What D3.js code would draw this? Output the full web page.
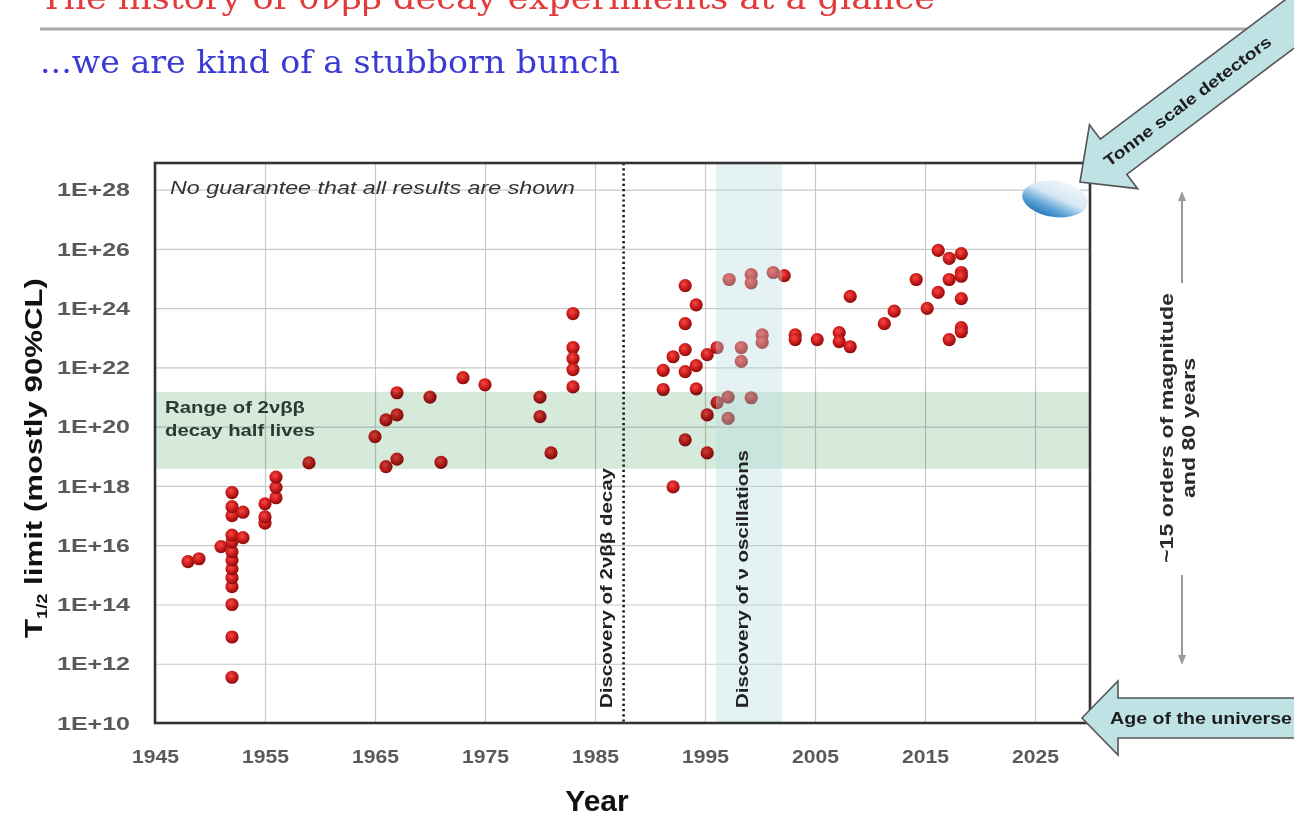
<!DOCTYPE html>
<html><head><meta charset="utf-8">
<script src="https://cdn.jsdelivr.net/npm/d3@7"></script>
<style>
body{margin:0;background:#fff}
svg{display:block}
</style>
</head><body>
<svg id="chart" width="1294" height="818"></svg>
<script>
// Half-life limits of 0νββ searches by publication year
const years = [
  1948, 1949, 1951,
  1952, 1952, 1952, 1952, 1952, 1952, 1952, 1952, 1952, 1952, 1952, 1952, 1952,
  1953, 1953,
  1955, 1955, 1955,
  1956, 1956, 1956,
  1959, 1965, 1966, 1966, 1967, 1967, 1967, 1970, 1971, 1973, 1975,
  1980, 1980, 1981,
  1983, 1983, 1983, 1983, 1983,
  1991.2, 1991.2, 1992.1, 1992.1,
  1993.2, 1993.2, 1993.2, 1993.2, 1993.2,
  1994.2, 1994.2, 1994.2,
  1995.2, 1995.2, 1995.2,
  1996.1, 1996.1,
  1997.2, 1997.1, 1997.1,
  1998.3, 1998.3,
  1999.2, 1999.2, 1999.2,
  2000.2, 2000.2, 2001.2, 2002.2,
  2003.2, 2003.2, 2005.2,
  2007.2, 2007.2, 2008.2, 2008.2,
  2011.3, 2012.2, 2014.2, 2015.2,
  2016.2, 2016.2,
  2017.2, 2017.2, 2017.2,
  2018.3, 2018.3, 2018.3, 2018.3, 2018.3, 2018.3
];
const halfLifeLimits = [
  2.8e15, 3.5e15, 9e15,
  3.5e11, 8e12, 1e14, 4e14, 8e14, 1.6e15, 3.2e15, 6e15, 1.3e16, 2.2e16, 1e17, 2e17, 6e17,
  1.8e16, 1.3e17,
  5.6e16, 9e16, 2.5e17,
  4e17, 9e17, 2e18,
  6e18, 4.6e19, 1.7e20, 4.5e18, 2.5e20, 1.4e21, 8e18, 1e21, 6.3e18, 4.5e21, 2.6e21,
  1e21, 2.2e20, 1.3e19,
  6.6e23, 4.7e22, 2e22, 8.5e21, 2.2e21,
  8e21, 1.8e21, 2.3e22, 9.3e17,
  5.8e24, 3e23, 4e22, 7.2e21, 3.6e19,
  1.3e24, 1.15e22, 1.9e21,
  2.7e22, 2.5e20, 1.3e19,
  4.7e22, 6.5e20,
  9.3e24, 1e21, 1.9e20,
  4.7e22, 1.6e22,
  1.35e25, 7.2e24, 9.5e20,
  1.25e23, 7e22, 1.6e25, 1.25e25,
  1.25e23, 8.7e22, 8.7e22,
  1.5e23, 7.4e22, 5e22, 2.5e24,
  3e23, 8e23, 9.3e24, 9.8e23,
  8.9e25, 3.4e24,
  4.8e25, 9.3e24, 8.7e22,
  6.9e25, 1.6e25, 1.2e25, 2.1e24, 2.2e23, 1.6e23
];
const yearTicks = [1945, 1955, 1965, 1975, 1985, 1995, 2005, 2015, 2025];
const limitTicks = [1e10, 1e12, 1e14, 1e16, 1e18, 1e20, 1e22, 1e24, 1e26, 1e28];
const twoNuRange = [3.8e18, 1.5e21];        // 2νββ half-life band
const oscillationYears = [1996, 2002];       // ν oscillation discovery period
const twoNuDiscoveryYear = 1987.6;

const svg = d3.select("#chart");
const W = 1294, H = 818;
const plot = {left: 155, right: 1090, top: 163, bottom: 723};
const sans = "'Liberation Sans', Arial, sans-serif";
const serif = "'DejaVu Serif', serif";

svg.append("rect").attr("width", W).attr("height", H).attr("fill", "#fff");

const defs = svg.append("defs");
const dot = defs.append("radialGradient").attr("id", "dotFill")
  .attr("cx", "42%").attr("cy", "38%").attr("r", "60%");
dot.append("stop").attr("offset", "0%").attr("stop-color", "#f24a44");
dot.append("stop").attr("offset", "55%").attr("stop-color", "#d11d1d");
dot.append("stop").attr("offset", "100%").attr("stop-color", "#8e0d0d");

const lens = defs.append("linearGradient").attr("id", "lensFill")
  .attr("x1", "80%").attr("y1", "0%").attr("x2", "25%").attr("y2", "100%");
lens.append("stop").attr("offset", "0%").attr("stop-color", "#f3f8fb");
lens.append("stop").attr("offset", "45%").attr("stop-color", "#d6e8f3");
lens.append("stop").attr("offset", "75%").attr("stop-color", "#5aa2d6");
lens.append("stop").attr("offset", "100%").attr("stop-color", "#1f6fb5");

const arrowHead = defs.append("marker").attr("id", "grayHead")
  .attr("viewBox", "0 0 10 10").attr("refX", 5).attr("refY", 5)
  .attr("markerWidth", 5).attr("markerHeight", 5).attr("orient", "auto-start-reverse");
arrowHead.append("path").attr("d", "M0,1 L10,5 L0,9 Z").attr("fill", "#9a9a9a");

// Heading
svg.append("text").attr("x", 40).attr("y", 9)
  .attr("font-family", serif).attr("font-size", 32).attr("fill", "#e23b3b")
  .attr("textLength", 895).attr("lengthAdjust", "spacingAndGlyphs")
  .text("The history of 0νββ decay experiments at a glance");
svg.append("line").attr("x1", 40).attr("x2", W).attr("y1", 29).attr("y2", 29)
  .attr("stroke", "#a9a9a9").attr("stroke-width", 3);
svg.append("text").attr("x", 40).attr("y", 73)
  .attr("font-family", serif).attr("font-size", 31).attr("fill", "#3b3bd4")
  .attr("textLength", 580).attr("lengthAdjust", "spacingAndGlyphs")
  .text("...we are kind of a stubborn bunch");

// Scales
const x = d3.scaleLinear().domain([1945, 2030]).range([plot.left, plot.right]);
const y = d3.scaleLog().domain([1e10, Math.pow(10, 28.9)]).range([plot.bottom, plot.top]);

// Grid
const grid = svg.append("g");
grid.append("g").attr("transform", `translate(0,${plot.bottom})`)
  .call(d3.axisBottom(x).tickValues(yearTicks).tickSize(-(plot.bottom - plot.top)).tickFormat(""))
  .call(g => g.select(".domain").remove())
  .call(g => g.selectAll("line").attr("stroke", "#c9c9c9").attr("stroke-width", 1.2));
grid.append("g").attr("transform", `translate(${plot.left},0)`)
  .call(d3.axisLeft(y).tickValues(limitTicks).tickSize(-(plot.right - plot.left)).tickFormat(""))
  .call(g => g.select(".domain").remove())
  .call(g => g.selectAll("line").attr("stroke", "#c9c9c9").attr("stroke-width", 1.2));

// Data points
svg.append("g").selectAll("circle")
  .data(years.map((yr, i) => ({yr, v: halfLifeLimits[i]})))
  .join("circle")
  .attr("cx", d => x(d.yr)).attr("cy", d => y(d.v)).attr("r", 6.6)
  .attr("fill", "url(#dotFill)");

// 2νββ half-life band
svg.append("rect")
  .attr("x", plot.left).attr("width", plot.right - plot.left)
  .attr("y", y(twoNuRange[1])).attr("height", y(twoNuRange[0]) - y(twoNuRange[1]))
  .attr("fill", "#d5eadb").style("mix-blend-mode", "multiply");

// ν oscillation discovery band
svg.append("rect")
  .attr("x", x(oscillationYears[0])).attr("width", x(oscillationYears[1]) - x(oscillationYears[0]))
  .attr("y", plot.top).attr("height", plot.bottom - plot.top)
  .attr("fill", "#b8dce3").attr("opacity", 0.38);

// 2νββ discovery marker
svg.append("line")
  .attr("x1", x(twoNuDiscoveryYear)).attr("x2", x(twoNuDiscoveryYear))
  .attr("y1", plot.top).attr("y2", plot.bottom)
  .attr("stroke", "#1a1a1a").attr("stroke-width", 2.6).attr("stroke-dasharray", "2.2,3");

// In-plot annotations
svg.append("text").attr("x", 170).attr("y", 194)
  .attr("font-family", sans).attr("font-style", "italic").attr("font-size", 18).attr("fill", "#333")
  .attr("textLength", 405).attr("lengthAdjust", "spacingAndGlyphs")
  .text("No guarantee that all results are shown");
const rangeLabel = svg.append("text").attr("font-family", sans).attr("font-weight", "bold")
  .attr("font-size", 17).attr("fill", "#2b3a2e");
rangeLabel.append("tspan").attr("x", 165).attr("y", 413).attr("textLength", 140)
  .attr("lengthAdjust", "spacingAndGlyphs").text("Range of 2νββ");
rangeLabel.append("tspan").attr("x", 165).attr("y", 436).attr("textLength", 150)
  .attr("lengthAdjust", "spacingAndGlyphs").text("decay half lives");

svg.append("text")
  .attr("transform", `translate(${x(twoNuDiscoveryYear) - 12},708) rotate(-90)`)
  .attr("font-family", sans).attr("font-weight", "bold").attr("font-size", 17).attr("fill", "#222")
  .attr("textLength", 240).attr("lengthAdjust", "spacingAndGlyphs")
  .text("Discovery of 2νββ decay");
svg.append("text")
  .attr("transform", `translate(${x(1998.8) + 1},708) rotate(-90)`)
  .attr("font-family", sans).attr("font-weight", "bold").attr("font-size", 17).attr("fill", "#222")
  .attr("textLength", 258).attr("lengthAdjust", "spacingAndGlyphs")
  .text("Discovery of ν oscillations");

// Plot frame
svg.append("rect").attr("x", plot.left).attr("y", plot.top)
  .attr("width", plot.right - plot.left).attr("height", plot.bottom - plot.top)
  .attr("fill", "none").attr("stroke", "#333").attr("stroke-width", 2.6);

// Axes labels
svg.append("g").attr("transform", `translate(0,${plot.bottom})`)
  .call(d3.axisBottom(x).tickValues(yearTicks).tickSize(0).tickPadding(27).tickFormat(d3.format("d")))
  .call(g => g.select(".domain").remove())
  .call(g => g.selectAll("text").attr("font-family", sans).attr("font-weight", "bold")
    .attr("font-size", 18).attr("fill", "#5a5a5a")
    .attr("textLength", 47).attr("lengthAdjust", "spacingAndGlyphs"));
svg.append("g").attr("transform", `translate(${plot.left},0)`)
  .call(d3.axisLeft(y).tickValues(limitTicks).tickSize(0).tickPadding(25)
    .tickFormat(d => "1E+" + Math.round(Math.log10(d))))
  .call(g => g.select(".domain").remove())
  .call(g => g.selectAll("text").attr("font-family", sans).attr("font-weight", "bold")
    .attr("font-size", 19).attr("fill", "#5a5a5a")
    .attr("textLength", 73).attr("lengthAdjust", "spacingAndGlyphs"));

svg.append("text").attr("x", 597).attr("y", 811).attr("text-anchor", "middle")
  .attr("font-family", sans).attr("font-weight", "bold").attr("font-size", 30).attr("fill", "#111")
  .text("Year");
const yTitle = svg.append("text")
  .attr("transform", "translate(42,458) rotate(-90)").attr("text-anchor", "middle")
  .attr("font-family", sans).attr("font-weight", "bold").attr("font-size", 24).attr("fill", "#111")
  .attr("textLength", 360).attr("lengthAdjust", "spacingAndGlyphs");
yTitle.append("tspan").text("T");
yTitle.append("tspan").attr("font-size", 14).attr("dy", 5).text("1/2");
yTitle.append("tspan").attr("dy", -5).text(" limit (mostly 90%CL)");

// Tonne-scale detector sensitivity
svg.append("ellipse").attr("cx", 1055).attr("cy", 199).attr("rx", 33).attr("ry", 18)
  .attr("transform", "rotate(8,1055,199)").attr("fill", "url(#lensFill)");

// Callout arrows
function callout(tx, ty, angle, headLen, headHalf, shaftHalf, len, label, textAt, fontSize, textLen) {
  const g = svg.append("g").attr("transform", `translate(${tx},${ty}) rotate(${angle})`);
  g.append("path")
    .attr("d", `M0,0 L${headLen},${-headHalf} L${headLen},${-shaftHalf} L${len},${-shaftHalf} L${len},${shaftHalf} L${headLen},${shaftHalf} L${headLen},${headHalf} Z`)
    .attr("fill", "#bfe2e5").attr("stroke", "#555").attr("stroke-width", 1.6);
  g.append("text").attr("x", textAt).attr("y", 0).attr("dy", "0.36em")
    .attr("font-family", sans).attr("font-weight", "bold").attr("font-size", fontSize).attr("fill", "#1d1d1d")
    .attr("textLength", textLen).attr("lengthAdjust", "spacingAndGlyphs")
    .text(label);
}
callout(1080, 182, -37, 42, 40, 22, 340, "Tonne scale detectors", 32, 16, 205);
callout(1082, 718, 0, 36, 37, 20, 260, "Age of the universe", 28, 16, 182);

// Span annotation on the right
svg.append("line").attr("x1", 1182).attr("x2", 1182).attr("y1", 283).attr("y2", 196)
  .attr("stroke", "#9a9a9a").attr("stroke-width", 2).attr("marker-end", "url(#grayHead)");
svg.append("line").attr("x1", 1182).attr("x2", 1182).attr("y1", 575).attr("y2", 660)
  .attr("stroke", "#9a9a9a").attr("stroke-width", 2).attr("marker-end", "url(#grayHead)");
const span = svg.append("text").attr("transform", "translate(1173,428) rotate(-90)")
  .attr("text-anchor", "middle").attr("font-family", sans).attr("font-weight", "bold")
  .attr("font-size", 19).attr("fill", "#2a2a2a");
span.append("tspan").attr("x", 0).attr("y", 0).attr("textLength", 270)
  .attr("lengthAdjust", "spacingAndGlyphs").text("~15 orders of magnitude");
span.append("tspan").attr("x", 0).attr("y", 22).attr("textLength", 140)
  .attr("lengthAdjust", "spacingAndGlyphs").text("and 80 years");
</script>
</body></html>
